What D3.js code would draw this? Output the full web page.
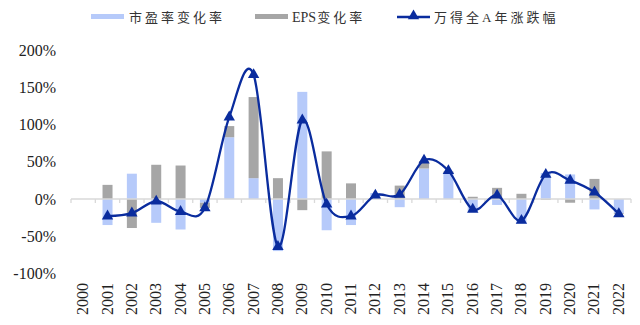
<!DOCTYPE html>
<html><head><meta charset="utf-8">
<script src="https://cdn.jsdelivr.net/npm/d3@7"></script>
<style>
html,body{margin:0;padding:0;background:#fff;}
svg{display:block;}
</style></head>
<body>
<svg id="c" width="640" height="325"></svg>
<script>
const years = ["2000","2001","2002","2003","2004","2005","2006","2007","2008","2009","2010","2011","2012","2013","2014","2015","2016","2017","2018","2019","2020","2021","2022"];
const peChange  = [null,-35, 34,-32,-41, -5, 83, 28,-70,144,-42,-35,  8,-11, 41, 34,-17, -8,-33, 35, 33,-14,-19];
const epsChange = [null, 19,-39, 46, 45, -7, 15,109, 28,-15, 64, 21,  0, 18, 10,  3,  3, 15,  7, -1, -5, 27, -1];
const mktReturn = [null,-23,-19, -3,-17,-12,110,167,-64,106, -7,-23,  5,  6, 52, 38,-14,  5,-29, 33, 25,  9,-20];
const yTicks = [-100,-50,0,50,100,150,200];
const seriesNames = ["市盈率变化率","EPS变化率","万得全A年涨跌幅"];

const BLUE_BAR = "#b6cafa", GREY_BAR = "#a6a6a6", LINE = "#0a2c9e";
const latin = "'Liberation Serif','Times New Roman',serif";
const cjk = "'Liberation Serif','Noto Sans CJK SC',serif";

const svg = d3.select("#c");
const x = d3.scaleBand().domain(years).range([71, 631]).paddingInner(0).paddingOuter(0);
const y = d3.scaleLinear().domain([-100, 200]).range([273.4, 50.2]);

const rows = years.map((yr, i) => ({year: yr, pe: peChange[i] || 0, eps: epsChange[i] || 0}));
const stack = d3.stack().keys(["pe","eps"]).offset(d3.stackOffsetDiverging);
const layers = stack(rows);
const colors = {pe: BLUE_BAR, eps: GREY_BAR};
const bw = 10;

// y tick labels
svg.append("g").selectAll("text").data(yTicks).join("text")
  .attr("x", 56).attr("y", d => y(d)).attr("dy", "0.35em")
  .attr("text-anchor", "end").attr("font-family", latin).attr("font-size", 16).attr("fill", "#222")
  .text(d => d + "%");

// bars
svg.append("g").selectAll("g").data(layers).join("g").attr("fill", d => colors[d.key])
  .selectAll("rect").data(d => d.filter(s => s[1] - s[0] !== 0)).join("rect")
  .attr("x", d => x(d.data.year) + x.bandwidth()/2 - bw/2)
  .attr("width", bw)
  .attr("y", d => y(Math.max(d[0], d[1])))
  .attr("height", d => Math.abs(y(d[0]) - y(d[1])));

// x axis
const xAxis = d3.axisBottom(x).tickSize(0).tickFormat("");
const ax = svg.append("g").attr("transform", `translate(0,${y(0)})`).call(xAxis);
ax.select(".domain").attr("stroke", "#d9d9d9").attr("stroke-width", 1.3).attr("d", `M71,0H631`);
svg.append("g").selectAll("line").data(d3.range(years.length + 1)).join("line")
  .attr("x1", i => 71 + i * x.step()).attr("x2", i => 71 + i * x.step())
  .attr("y1", y(0)).attr("y2", y(0) + 4)
  .attr("stroke", "#d9d9d9").attr("stroke-width", 1.3);

// x labels
svg.append("g").selectAll("text").data(years).join("text")
  .attr("transform", d => `translate(${x(d) + x.bandwidth()/2 + 5},283) rotate(-90)`)
  .attr("text-anchor", "end").attr("font-family", latin).attr("font-size", 16).attr("fill", "#222")
  .text(d => d);

// line
const pts = years.map((yr, i) => ({year: yr, v: mktReturn[i]}));
const line = d3.line().defined(d => d.v !== null)
  .x(d => x(d.year) + x.bandwidth()/2).y(d => y(d.v))
  .curve(d3.curveCardinal.tension(0));
svg.append("path").datum(pts).attr("d", line).attr("fill", "none")
  .attr("stroke", LINE).attr("stroke-width", 2.3);
const tri = d3.symbol().type(d3.symbolTriangle).size(56);
svg.append("g").selectAll("path").data(pts.filter(d => d.v !== null)).join("path")
  .attr("d", tri).attr("fill", LINE)
  .attr("transform", d => `translate(${x(d.year) + x.bandwidth()/2},${y(d.v)})`);

// legend
const lg = svg.append("g").attr("font-family", cjk).attr("font-size", 13).attr("fill", "#333");
lg.append("rect").attr("x", 91).attr("y", 14).attr("width", 33).attr("height", 5).attr("fill", BLUE_BAR);
lg.append("text").attr("x", 129).attr("y", 21.5).attr("letter-spacing", 3).text(seriesNames[0]);
lg.append("rect").attr("x", 255).attr("y", 14).attr("width", 33).attr("height", 5).attr("fill", GREY_BAR);
const t2 = lg.append("text").attr("x", 292).attr("y", 21.5).attr("font-size", 14);
t2.append("tspan").text(seriesNames[1].slice(0, 3));
t2.append("tspan").attr("letter-spacing", 3).attr("font-size", 13).attr("dx", 1).text(seriesNames[1].slice(3));
lg.append("line").attr("x1", 397).attr("x2", 430).attr("y1", 17).attr("y2", 17).attr("stroke", LINE).attr("stroke-width", 2.3);
lg.append("path").attr("d", tri).attr("fill", LINE).attr("transform", "translate(413.5,16)");
lg.append("text").attr("x", 434).attr("y", 21.5).attr("letter-spacing", 3).text(seriesNames[2]);
</script>
</body></html>
